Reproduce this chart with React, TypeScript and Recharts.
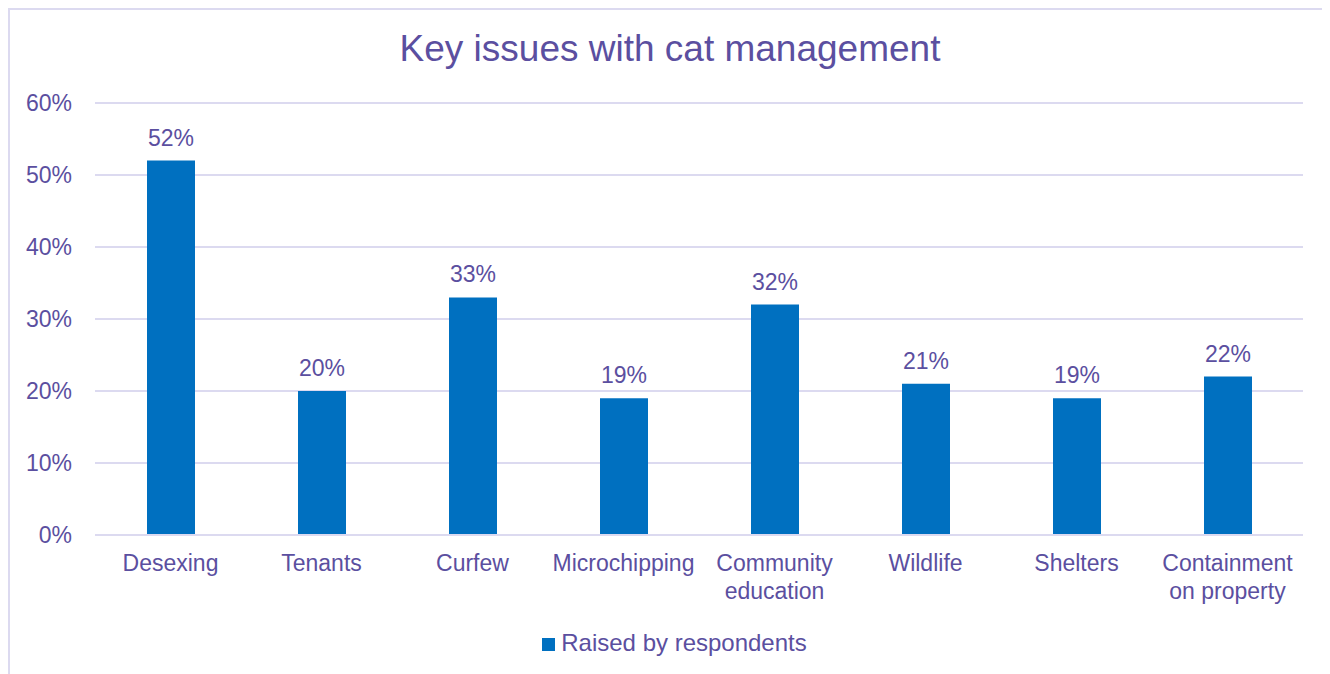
import React from 'react';
import { BarChart, Bar, XAxis, YAxis, CartesianGrid, Legend, LabelList } from 'recharts';

const categories = ['Desexing', 'Tenants', 'Curfew', 'Microchipping', 'Community education', 'Wildlife', 'Shelters', 'Containment on property'];
const raised = [0.52, 0.2, 0.33, 0.19, 0.32, 0.21, 0.19, 0.22];
const yTicks = [0, 0.1, 0.2, 0.3, 0.4, 0.5, 0.6];

const data = categories.map((name, i) => ({ name, value: raised[i] }));

const TEXT = '#5B4FA0';
const BLUE = '#0070C0';
const GRID = '#DCDAF0';
const FONT = '"Liberation Sans", Arial, sans-serif';

const pct = (v: number) => `${Math.round(v * 100)}%`;

// long names break after the first word
const CategoryTick = (props: any) => {
  const { x, y, payload } = props;
  const words = String(payload.value).split(' ');
  const lines = words.length > 1 ? [words[0], words.slice(1).join(' ')] : words;
  return (
    <text x={x} y={y} textAnchor="middle" fill={TEXT} fontSize={23} fontFamily={FONT}>
      {lines.map((l, i) => (
        <tspan key={i} x={x} dy={28}>{l}</tspan>
      ))}
    </text>
  );
};

export default function App() {
  return (
    <div style={{ width: 1322, height: 666, boxSizing: 'border-box', borderTop: `2px solid ${GRID}`, borderLeft: `2px solid ${GRID}`, position: 'relative', fontFamily: FONT }}>
      <style>{'body{overflow:hidden}'}</style>
      <div style={{ position: 'absolute', left: 0, right: 0, top: 18, textAlign: 'center', color: TEXT, fontSize: 37 }}>
        Key issues with cat management
      </div>
      <BarChart width={1320} height={664} data={data} margin={{ top: 93, right: 27, left: 0, bottom: 12 }}>
        <CartesianGrid vertical={false} stroke={GRID} strokeWidth={2} />
        <XAxis dataKey="name" axisLine={{ stroke: GRID, strokeWidth: 2 }} tickLine={false} tick={<CategoryTick />} height={94} interval={0} />
        <YAxis domain={[0, 0.6]} ticks={yTicks} tickFormatter={pct} axisLine={false} tickLine={false} tickSize={0} tickMargin={23} width={85}
          tick={{ fill: TEXT, fontSize: 23, fontFamily: FONT }} />
        <Legend verticalAlign="bottom" align="center" iconType="square" iconSize={13}
          wrapperStyle={{ fontSize: 24, fontFamily: FONT, height: 33, left: 23 }}
          formatter={(v) => <span style={{ color: TEXT, marginLeft: 2 }}>{v}</span>} />
        <Bar dataKey="value" name="Raised by respondents" fill={BLUE} barSize={48} isAnimationActive={false}>
          <LabelList dataKey="value" position="top" offset={15} formatter={(v: any) => pct(v)} fill={TEXT} fontSize={23} fontFamily={FONT} />
        </Bar>
      </BarChart>
    </div>
  );
}
